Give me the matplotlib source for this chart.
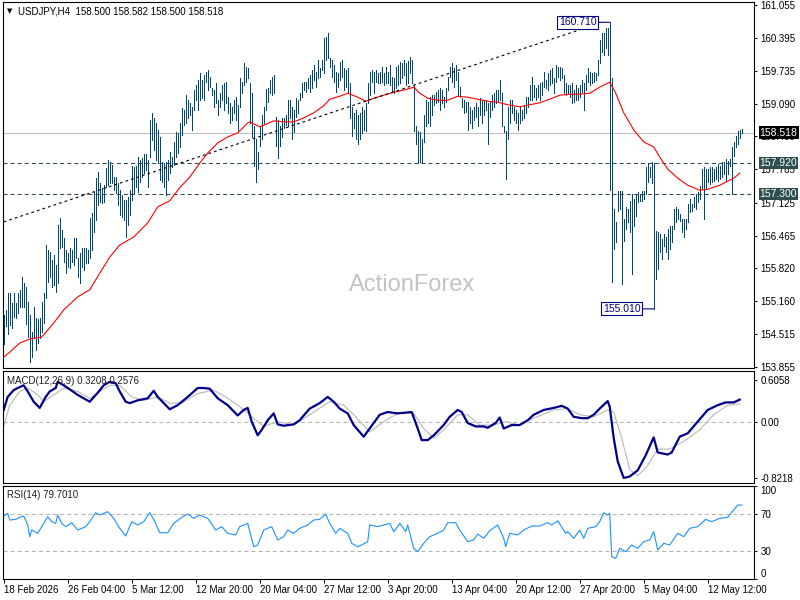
import matplotlib
matplotlib.use('Agg')
import matplotlib.pyplot as plt
import numpy as np

plt.rcParams['font.family'] = ['Liberation Sans', 'DejaVu Sans']
plt.rcParams['lines.scale_dashes'] = False

# ---- data (USDJPY H4) ----
title_text = 'USDJPY,H4  158.500 158.582 158.500 158.518'
macd_text = 'MACD(12,26,9) 0.3208 0.2576'
rsi_text = 'RSI(14) 79.7010'

# bar highs / lows, one per 4h bar
highs = [
    # 18 Feb ->
    154.88, 154.98, 155.33, 155.33, 155.13, 155.32, 155.13, 155.32, 155.38, 155.64,
    155.52, 155.44, 155.15, 154.89, 154.55, 155.05, 154.83, 154.81, 154.83, 155.15,
    155.32, 156.28, 156.18, 156.14, 155.98, 156.08, 155.88, 156.68, 156.82, 156.58,
    156.42, 156.18, 156.12, 156.22, 156.18, 156.42, 156.42, 156.02, 156.12, 156.22,
    156.22, 156.22, 156.18, 156.82, 156.92, 157.33, 157.61, 157.73, 157.51, 157.41,
    157.47, 157.81, 157.97, 157.93, 157.87, 157.63, 157.63, 157.51, 157.37, 157.27,
    157.17, 157.17, 157.23, 157.37,
    # 5 Mar ->
    157.85, 157.83, 157.85, 158.03, 157.97, 158.01, 158.09, 158.09, 157.97, 158.77,
    158.91, 158.81, 158.71, 158.57, 158.43, 157.93, 157.91, 157.93, 157.97, 158.13,
    158.03, 158.33, 158.53, 158.51, 158.71, 159.01, 158.97, 159.26, 159.16, 159.10,
    159.02, 159.36, 159.46, 159.56, 159.70, 159.56, 159.66, 159.72, 159.76, 159.62,
    159.40, 159.36, 159.50, 159.16, 159.30, 159.46, 159.50, 159.52, 159.22, 159.10,
    159.02, 159.16, 159.22, 159.06, 159.60, 159.52, 159.90, 159.82, 159.80, 159.50,
    # 20 Mar ->
    159.31, 158.64, 158.38, 158.14, 158.64, 158.87, 159.03, 159.38, 159.40, 159.56,
    159.62, 159.66, 158.83, 158.77, 158.64, 158.81, 158.81, 158.87, 159.16, 159.16,
    159.03, 158.97, 159.20, 159.16, 159.30, 159.50, 159.52, 159.52, 159.60, 159.66,
    159.76, 159.86, 159.72, 159.96, 159.80, 159.96, 160.40, 160.42, 160.50, 160.00,
    159.96, 159.86, 159.72, 159.70, 159.92, 159.96, 159.80, 159.76, 159.80, 159.50,
    159.03, 158.91, 158.97, 158.87, 158.91, 159.03, 158.97, 159.10, 159.50, 159.72,
    159.76, 159.72, 159.76, 159.70, 159.72, 159.82, 159.70, 159.82, 159.72, 159.86,
    159.62, 159.60, 159.82, 159.86, 159.92, 159.90, 159.96, 159.90, 159.94, 160.02,
    159.96, 159.46, 158.64, 158.54, 158.52, 158.38, 158.87, 159.16, 159.12, 159.22,
    159.26, 159.26, 159.32, 159.36, 159.40, 159.36, 159.22, 159.40, 159.62, 159.82,
    159.90, 159.80, 159.86, 159.72, 159.42, 159.20, 159.16, 159.12, 159.12, 159.03,
    158.97, 159.03, 159.10, 159.03, 159.20, 159.16, 159.16, 159.16, 159.10, 159.12,
    159.26, 159.30, 159.36, 159.36, 159.56, 159.30, 158.64, 158.54, 159.03, 159.16,
    159.16, 159.03, 158.97, 158.91,
    # 21 Apr ->
    159.03, 158.97, 159.06, 159.22, 159.22, 159.46, 159.62, 159.46, 159.40, 159.46,
    159.50, 159.52, 159.72, 159.56, 159.70, 159.76, 159.80, 159.60, 159.86, 159.82,
    159.82, 159.80, 159.66, 159.50, 159.46, 159.46, 159.50, 159.36, 159.46, 159.40,
    159.46, 159.56, 159.50, 159.66, 159.80, 159.72, 159.70, 159.72, 159.70, 159.96,
    160.36, 160.50, 160.50, 160.60, 160.60, 160.71,
    # 30 Apr ->
    159.60, 157.00, 156.74, 157.36, 157.36, 157.36, 156.80, 157.04, 157.00, 157.16,
    157.30, 157.20, 157.30, 157.34, 157.30, 157.36, 157.36, 157.84, 157.92, 157.84,
    157.94, 157.92, 156.56, 156.54, 156.50, 156.40, 156.50, 156.44, 156.60, 156.66,
    156.66, 157.00, 157.04, 157.00, 156.90, 156.80, 156.80, 156.80, 157.10, 157.20,
    157.10, 157.24, 157.30, 157.34, 157.46, 157.80, 157.84, 157.80, 157.80, 157.84,
    157.84, 157.80, 157.84, 157.90, 157.86, 157.94, 157.94, 158.00, 157.96, 158.00,
    158.23, 158.33, 158.45, 158.55, 158.57, 158.582,
]
lows = [
    154.32, 154.66, 154.52, 154.69, 154.63, 154.85, 154.83, 154.93, 155.05, 155.05,
    155.05, 154.71, 154.45, 153.95, 154.05, 154.43, 154.19, 154.33, 154.43, 154.55,
    154.73, 155.22, 155.54, 155.64, 155.44, 155.48, 155.35, 155.52, 156.22, 156.24,
    155.94, 155.72, 155.84, 155.82, 155.94, 155.88, 156.02, 155.64, 155.52, 155.84,
    155.78, 155.92, 155.92, 156.02, 156.18, 156.54, 156.78, 157.08, 157.14, 157.12,
    157.14, 157.43, 157.47, 157.51, 157.51, 157.37, 157.31, 157.08, 156.88, 156.84,
    156.78, 156.44, 156.68, 156.88,
    157.17, 157.31, 157.43, 157.33, 157.53, 157.63, 157.71, 157.77, 157.43, 158.03,
    158.37, 158.17, 157.97, 157.91, 157.57, 157.53, 157.43, 157.27, 157.57, 157.71,
    157.83, 157.87, 158.03, 158.11, 158.23, 158.47, 158.67, 158.71, 158.81, 158.86,
    158.57, 158.96, 159.16, 158.96, 159.16, 159.20, 159.16, 159.52, 159.36, 159.42,
    159.26, 159.02, 159.10, 158.86, 159.02, 159.16, 158.96, 159.10, 158.90, 158.71,
    158.77, 158.90, 158.77, 158.57, 159.02, 159.30, 159.46, 159.52, 159.60, 158.71,
    158.42, 157.85, 157.53, 157.79, 158.24, 158.38, 158.71, 158.97, 159.12, 159.30,
    159.26, 159.30, 158.24, 158.01, 158.24, 158.43, 158.61, 158.67, 158.64, 158.81,
    158.38, 158.53, 158.83, 158.91, 159.16, 159.22, 159.36, 159.32, 159.40, 159.32,
    159.40, 159.56, 159.42, 159.60, 159.62, 159.76, 159.70, 159.96, 160.00, 159.82,
    159.62, 159.52, 159.32, 159.42, 159.56, 159.62, 159.36, 159.42, 159.30, 158.81,
    158.44, 158.61, 158.38, 158.28, 158.38, 158.51, 158.57, 158.55, 159.10, 159.26,
    159.52, 159.30, 159.52, 159.50, 159.50, 159.52, 159.46, 159.50, 159.50, 159.46,
    159.32, 159.30, 159.40, 159.46, 159.50, 159.60, 159.66, 159.46, 159.50, 159.70,
    159.50, 158.54, 158.28, 157.92, 157.94, 157.92, 158.32, 158.64, 158.71, 158.64,
    158.87, 159.06, 159.10, 159.12, 158.97, 159.10, 159.02, 159.12, 159.36, 159.62,
    159.52, 159.42, 159.56, 159.26, 159.22, 159.03, 158.91, 158.93, 158.57, 158.71,
    158.61, 158.77, 158.83, 158.64, 158.87, 158.71, 158.87, 158.97, 158.28, 158.83,
    158.97, 159.03, 159.10, 159.12, 159.16, 158.64, 158.52, 157.60, 158.38, 158.71,
    158.91, 158.77, 158.71, 158.57,
    158.71, 158.77, 158.81, 158.91, 159.02, 159.16, 159.16, 159.22, 159.16, 159.22,
    159.16, 159.26, 159.42, 159.40, 159.36, 159.46, 159.50, 159.30, 159.52, 159.62,
    159.56, 159.60, 159.30, 159.26, 159.30, 159.22, 159.10, 159.12, 159.16, 159.16,
    159.22, 159.32, 158.97, 159.36, 159.52, 159.46, 159.50, 159.52, 159.56, 159.66,
    159.90, 160.12, 160.06, 160.20, 160.06, 157.38,
    155.55, 156.21, 156.34, 156.96, 157.00, 155.51, 156.36, 156.60, 156.74, 156.54,
    155.71, 156.66, 156.86, 157.14, 157.16, 157.16, 157.20, 157.30, 157.54, 157.64,
    157.52, 155.01, 155.61, 155.81, 156.14, 156.00, 156.26, 156.14, 156.00, 156.20,
    156.34, 156.60, 156.74, 156.80, 156.76, 156.54, 156.44, 156.60, 156.74, 156.94,
    156.96, 157.04, 157.00, 157.14, 157.20, 157.40, 156.80, 157.40, 157.54, 157.50,
    157.54, 157.56, 157.60, 157.56, 157.60, 157.64, 157.70, 157.56, 157.70, 157.86,
    157.30, 158.05, 158.23, 158.29, 158.41, 158.50,
]
last_close = 158.518
level_hi = 157.920
level_lo = 157.300

# red moving average, sampled along the bars
ma_idx = [0, 3, 8, 13, 19, 25, 30, 37, 43, 48, 53, 58, 65, 72, 77, 83, 88, 93, 98, 102,
          107, 112, 117, 122, 123, 128, 135, 140, 145, 150, 155, 160, 163, 168, 172, 177,
          181, 185, 190, 195, 200, 205, 208, 212, 217, 222, 227, 232, 237, 242, 247, 252,
          258, 263, 268, 273, 278, 283, 288, 293, 298, 302, 303, 306, 310, 315, 320, 325,
          328, 332, 337, 342, 348, 352, 358, 365, 368]
ma_val = [154.05, 154.15, 154.33, 154.41, 154.45, 154.73, 154.99, 155.25, 155.39, 155.72,
          156.04, 156.28, 156.44, 156.72, 157.04, 157.16, 157.42, 157.63, 157.91, 158.11,
          158.31, 158.43, 158.51, 158.71, 158.73, 158.63, 158.75, 158.73, 158.73, 158.81,
          158.91, 159.05, 159.18, 159.24, 159.30, 159.22, 159.14, 159.20, 159.26, 159.32,
          159.36, 159.42, 159.30, 159.20, 159.16, 159.16, 159.24, 159.22, 159.18, 159.14,
          159.12, 159.07, 159.03, 159.07, 159.11, 159.18, 159.26, 159.28, 159.28, 159.30,
          159.42, 159.50, 159.52, 159.30, 158.91, 158.57, 158.33, 158.23, 158.03, 157.79,
          157.61, 157.47, 157.37, 157.39, 157.47, 157.61, 157.71]

# dotted trend line ends
trend_idx = [0, 297]
trend_val = [156.74, 160.68]

# MACD main line
macd_idx = [0, 2, 5, 7, 10, 12, 15, 18, 21, 23, 26, 27, 30, 32, 37, 40, 43, 47, 50, 53,
            56, 58, 61, 63, 67, 72, 75, 77, 80, 83, 87, 92, 97, 100, 103, 107, 112, 117,
            120, 122, 124, 127, 129, 132, 135, 137, 140, 145, 148, 153, 158, 162, 165,
            168, 172, 175, 180, 183, 188, 192, 197, 204, 207, 209, 212, 215, 220, 223,
            227, 229, 232, 236, 240, 242, 246, 248, 250, 254, 258, 262, 265, 270, 275,
            279, 282, 285, 289, 292, 295, 298, 302, 303, 305, 307, 310, 313, 317, 321,
            325, 327, 332, 334, 338, 342, 347, 352, 357, 361, 365, 368]
macd_val = [0.17, 0.36, 0.46, 0.49, 0.53, 0.44, 0.29, 0.20, 0.36, 0.44, 0.49, 0.58, 0.53,
            0.49, 0.39, 0.34, 0.29, 0.42, 0.53, 0.58, 0.56, 0.44, 0.29, 0.27, 0.31, 0.34,
            0.45, 0.36, 0.27, 0.18, 0.24, 0.36, 0.49, 0.49, 0.48, 0.34, 0.24, 0.09, 0.17,
            0.20, 0.00, -0.20, -0.12, 0.02, 0.12, -0.04, -0.06, -0.04, 0.02, 0.19, 0.27,
            0.36, 0.29, 0.19, 0.12, -0.05, -0.22, -0.10, 0.10, 0.14, 0.12, 0.14, -0.10,
            -0.27, -0.27, -0.20, -0.05, 0.07, 0.17, 0.14, -0.02, -0.07, -0.07, -0.09,
            -0.02, 0.06, -0.10, -0.05, -0.05, 0.02, 0.10, 0.17, 0.20, 0.23, 0.19, 0.07,
            0.05, 0.05, 0.10, 0.19, 0.30, 0.22, -0.24, -0.58, -0.8218, -0.80, -0.71, -0.49,
            -0.23, -0.45, -0.48, -0.45, -0.22, -0.17, 0.00, 0.17, 0.24, 0.28, 0.28, 0.3208]

# MACD signal line
sig_idx = [0, 3, 8, 12, 17, 20, 25, 30, 37, 43, 48, 53, 58, 64, 70, 77, 83, 89, 97, 105,
           112, 118, 125, 130, 137, 145, 153, 163, 170, 175, 183, 190, 197, 205, 210, 215,
           220, 227, 232, 238, 245, 251, 258, 265, 275, 282, 288, 295, 302, 305, 309, 313,
           317, 322, 327, 333, 340, 348, 355, 362, 368]
sig_val = [-0.07, 0.24, 0.44, 0.49, 0.39, 0.29, 0.39, 0.49, 0.44, 0.34, 0.44, 0.53, 0.53,
           0.36, 0.31, 0.36, 0.27, 0.27, 0.41, 0.46, 0.34, 0.22, 0.05, -0.07, 0.00, -0.05,
           0.10, 0.29, 0.24, 0.10, -0.15, 0.00, 0.12, 0.12, -0.10, -0.24, -0.12, 0.10,
           0.10, -0.05, -0.05, 0.00, -0.05, 0.05, 0.17, 0.19, 0.10, 0.07, 0.17, 0.14,
           -0.24, -0.70, -0.79, -0.64, -0.40, -0.40, -0.29, -0.12, 0.10, 0.24, 0.2576]
macd_ticks = [0.6058, 0.0, -0.8218]
macd_ticklabels = ['0.6058', '0.00', '-0.8218']

# RSI(14)
rsi_idx = [0, 2, 3, 6, 8, 10, 12, 13, 14, 17, 19, 22, 24, 26, 27, 29, 31, 34, 37, 41,
           43, 46, 48, 52, 55, 58, 61, 64, 67, 70, 73, 75, 78, 82, 85, 89, 92, 95, 98,
           102, 106, 109, 112, 116, 118, 122, 125, 127, 130, 134, 137, 140, 142, 145,
           148, 152, 155, 158, 161, 163, 166, 168, 172, 174, 177, 179, 182, 183, 187,
           190, 193, 195, 197, 198, 201, 202, 205, 207, 210, 213, 217, 220, 222, 226,
           228, 232, 235, 237, 240, 243, 247, 250, 251, 253, 257, 260, 264, 268, 272,
           274, 277, 281, 282, 285, 288, 290, 292, 296, 298, 300, 302, 303, 304, 306,
           308, 311, 314, 317, 320, 323, 325, 327, 330, 333, 337, 340, 343, 347, 351,
           354, 358, 362, 365, 367, 369]
rsi_val = [67.8, 70.7, 63.5, 64.2, 66.4, 67.8, 58.1, 45.5, 52.7, 49.1, 56.3, 67.1, 61.7,
           59.9, 68.9, 59.9, 56.3, 60.6, 52.7, 56.3, 61.7, 71.4, 68.9, 72.5, 65.3, 54.5,
           46.2, 61.7, 58.1, 61.7, 71.4, 64.2, 49.8, 49.8, 59.9, 66.4, 70.0, 65.3, 68.9,
           65.3, 52.7, 56.3, 49.1, 47.3, 56.3, 59.9, 34.6, 36.5, 52.7, 56.3, 41.9, 45.5,
           52.7, 49.1, 54.5, 58.1, 63.5, 64.2, 70.0, 59.9, 49.1, 54.5, 49.1, 38.3, 34.6,
           36.5, 40.1, 58.1, 56.3, 58.1, 59.9, 50.9, 56.3, 59.9, 50.9, 58.1, 32.9, 29.2,
           38.3, 45.5, 49.1, 52.7, 60.6, 60.6, 52.7, 40.1, 41.9, 48.4, 43.7, 51.9, 58.1,
           43.7, 34.6, 49.1, 47.3, 52.7, 57.0, 57.0, 60.6, 58.1, 62.7, 49.1, 50.9, 43.7,
           52.7, 43.7, 54.5, 56.3, 61.7, 71.4, 68.9, 70.7, 23.8, 22.1, 32.9, 29.2, 36.5,
           32.9, 40.1, 41.9, 50.9, 31.1, 38.3, 36.5, 49.1, 45.5, 54.5, 56.3, 64.2, 61.7,
           65.3, 66.4, 74.3, 79.7, 79.701]
rsi_levels = [70, 30]

price_ticks = [161.055, 160.395, 159.735, 159.090, 158.450, 157.785, 157.125,
               156.465, 155.820, 155.160, 154.515, 153.855]

date_idx = [0, 32, 64, 96, 128, 160, 192, 224, 256, 288, 320, 352]
date_labels = ['18 Feb 2026', '26 Feb 04:00', '5 Mar 12:00', '12 Mar 20:00',
               '20 Mar 04:00', '27 Mar 12:00', '3 Apr 20:00', '13 Apr 04:00',
               '20 Apr 12:00', '27 Apr 20:00', '5 May 04:00', '12 May 12:00']

# ---- figure ----
W, H = 800, 600
fig = plt.figure(figsize=(8, 6), dpi=100)
fig.patch.set_facecolor('white')

def px_axes(top, bottom, left=2.5, right=754):
    return fig.add_axes([left / W, 1 - bottom / H, (right - left) / W, (bottom - top) / H])

ax1 = px_axes(2, 368)
ax2 = px_axes(371, 483)
ax3 = px_axes(486, 579)

n = len(highs)
idx = np.arange(n)
xlim = (-0.6, 375.15)
fs = 7
bar_col = '#163f60'

for ax in (ax1, ax2, ax3):
    ax.set_xlim(*xlim)
    for s in ax.spines.values():
        s.set_color('black')
        s.set_linewidth(0.8)
    ax.yaxis.tick_right()
    ax.tick_params(axis='y', direction='out', length=2.2, width=0.7, pad=2.5,
                   labelsize=fs, colors='black')
    ax.tick_params(axis='x', bottom=False, labelbottom=False)

# price panel
ax1.set_ylim(153.834, 161.114)
ax1.axhline(last_close, color='#c0c0c0', lw=0.8, zorder=1)
ax1.axhline(level_hi, color='#2f4f4f', lw=0.75, ls=(0, (2.9, 2.2)), zorder=1)
ax1.axhline(level_lo, color='#2f4f4f', lw=0.75, ls=(0, (2.9, 2.2)), zorder=1)
ax1.vlines(idx, lows, highs, color=bar_col, lw=0.55, antialiased=False, zorder=2)
ax1.plot(ma_idx, ma_val, color='#ff0000', lw=0.8, zorder=3)
ax1.plot(trend_idx, trend_val, color='black', lw=0.8, ls=(0, (2.0, 2.2)), zorder=3)
ax1.set_yticks(price_ticks)
ax1.set_yticklabels(['%.3f' % v for v in price_ticks])

# labelled swing high and the low that followed it
imax = int(np.argmax(highs))
imin = imax + int(np.argmin(lows[imax:]))
for i_ext, v_ext in ((imax, highs[imax]), (imin, lows[imin])):
    ax1.annotate('%.3f' % v_ext, xy=(i_ext, v_ext), xytext=(-9.5, 0),
                 textcoords='offset points', ha='right', va='center',
                 fontsize=fs + 0.5, color='#000080',
                 bbox=dict(boxstyle='square,pad=0.15', fc='white', ec='#000080', lw=0.8),
                 arrowprops=dict(arrowstyle='-', color='#000080', lw=0.8,
                                 shrinkA=0, shrinkB=0), zorder=5)

ytr = ax1.get_yaxis_transform()
for val, fc in ((last_close, 'black'), (level_hi, '#2f4f4f'), (level_lo, '#2f4f4f')):
    ax1.text(1.0075, val, '%.3f' % val, transform=ytr, ha='left', va='center',
             fontsize=fs + 0.5, color='white', clip_on=False, zorder=6,
             bbox=dict(boxstyle='square,pad=0.1', fc=fc, ec='none'))

# MACD panel
ax2.set_ylim(-0.895, 0.738)
ax2.axhline(0, color='#b4b4b4', lw=0.75, ls=(0, (2.9, 2.2)))
ax2.plot(sig_idx, sig_val, color='#b8b8b8', lw=0.8)
ax2.plot(macd_idx, macd_val, color='#00008b', lw=1.6)
ax2.set_yticks(macd_ticks)
ax2.set_yticklabels(macd_ticklabels)

# RSI panel
ax3.set_ylim(-0.3, 100.3)
for lv in rsi_levels:
    ax3.axhline(lv, color='#b4b4b4', lw=0.75, ls=(0, (2.9, 2.2)))
ax3.plot(rsi_idx, rsi_val, color='#1e90ff', lw=0.8)
ax3.set_yticks([100, 70, 30, 0])
ax3.set_yticklabels(['100', '70', '30', '0'])
tl = ax3.get_yticklabels()
tl[0].set_va('top')
tl[3].set_va('bottom')

ax3.set_xticks(date_idx)
ax3.set_xticklabels(date_labels, ha='left')
ax3.tick_params(axis='x', bottom=True, labelbottom=True, direction='out',
                length=2.8, width=0.7, pad=1.5, labelsize=fs, colors='black')

# texts
fig.text(7 / W, 1 - 11 / H, '\u25bc', fontsize=5, ha='left', va='center',
         family='DejaVu Sans', color='black')
fig.text(18 / W, 1 - 11 / H, title_text, fontsize=fs, ha='left', va='center', color='black')
fig.text(7 / W, 1 - 381 / H, macd_text, fontsize=fs, ha='left', va='center', color='#202020')
fig.text(7 / W, 1 - 495 / H, rsi_text, fontsize=fs, ha='left', va='center', color='#202020')
fig.text(412.5 / W, 1 - 291 / H, 'ActionForex', fontsize=17, ha='center', va='baseline',
         color='#c3c3c3')

fig.savefig('out.png', dpi=100)
